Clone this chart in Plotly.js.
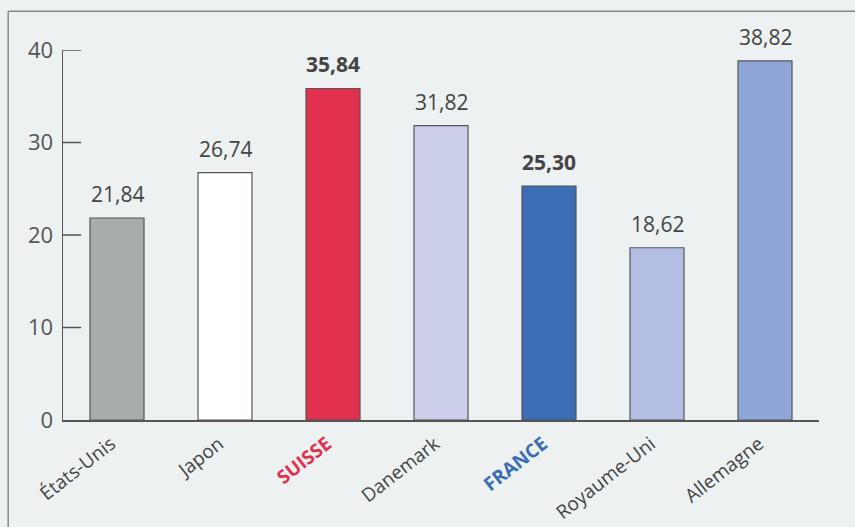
<!DOCTYPE html>
<html><head><meta charset="utf-8">
<script src="https://cdn.plot.ly/plotly-3.0.1.min.js"></script>
<style>html,body{margin:0;padding:0;background:#edf1f1;}#c{width:855px;height:527px;}</style>
</head><body><div id="c"></div>
<script>
const categories = ['États-Unis','Japon','SUISSE','Danemark','FRANCE','Royaume-Uni','Allemagne'];
const values = [21.84, 26.74, 35.84, 31.82, 25.30, 18.62, 38.82];
const barColors = ['#a7acac','#ffffff','#e2304f','#cbd0e8','#3b6db4','#b4bee2','#8fa6d8'];
const boldLabels = [false,false,true,false,true,false,false];
const labelColors = ['#444','#444','#e2304f','#444','#3b6db4','#444','#444'];
const yTicks = [0,10,20,30,40];

const fmt = v => v.toFixed(2).replace('.', ',');
const barText = values.map((v,i)=> boldLabels[i] ? '<b>'+fmt(v)+'</b>' : fmt(v));
const tickText = categories.map((c,i)=> boldLabels[i] ? '<span style="color:'+labelColors[i]+'"><b>'+c+'</b></span>' : c);

const trace = {
  type:'bar', x:categories, y:values,
  marker:{color:barColors, line:{color:'#555', width:1.2}},
  hoverinfo:'skip'
};
const annotations = categories.map((c,i)=>({
  x:c, y:values[i], xref:'x', yref:'y', text:barText[i], showarrow:false,
  yanchor:'bottom', yshift:8, font:{family:'Open Sans', size:21, color:'#444'}
}));
const tickShapes = yTicks.filter(t=>t>0).map(t=>({
  type:'line', xref:'paper', yref:'y', x0:0, x1:0.024, y0:t, y1:t, line:{color:'#555', width:1.5}
}));
const layout = {
  width:855, height:527,
  margin:{l:63, r:36, t:50, b:107},
  paper_bgcolor:'#edf1f1', plot_bgcolor:'rgba(0,0,0,0)',
  bargap:0.5, showlegend:false,
  font:{family:'Open Sans', color:'#444'},
  xaxis:{type:'category', tickvals:categories, ticktext:tickText, tickangle:-38,
    showline:true, linecolor:'#555', linewidth:1.5, ticks:'outside', ticklen:4, tickcolor:'rgba(0,0,0,0)', showgrid:false,
    ticklabelshift:-6,
    tickfont:{family:'Open Sans', size:19, color:'#444'}, range:[-0.5,6.5], zeroline:false},
  yaxis:{range:[0,40], tickvals:yTicks, ticks:'', showline:true, linecolor:'#555', linewidth:1.5,
    showgrid:false, zeroline:false, ticklabelstandoff:4,
    tickfont:{family:'Open Sans', size:22, color:'#555'}},
  annotations:annotations,
  shapes:[
    {type:'line', xref:'paper', yref:'paper', x0:-0.0725, x1:1.1, y0:1.105, y1:1.105, line:{color:'#888', width:1.5}},
    {type:'line', xref:'paper', yref:'paper', x0:-0.0725, x1:-0.0725, y0:1.105, y1:-0.5, line:{color:'#888', width:1.5}}
  ].concat(tickShapes)
};
Plotly.newPlot('c',[trace],layout,{displayModeBar:false, staticPlot:true});
</script></body></html>
